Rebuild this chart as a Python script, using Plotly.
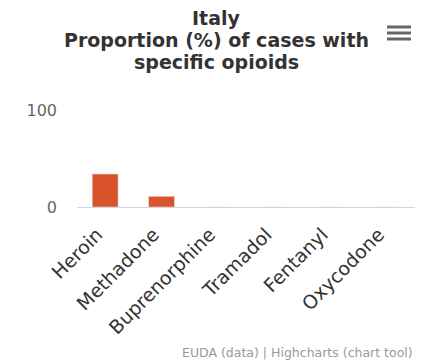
import plotly.graph_objects as go

opioids = ["Heroin", "Methadone", "Buprenorphine", "Tramadol", "Fentanyl", "Oxycodone"]
proportion = [34, 11, 0, 0, 0, 0]
title_lines = ["Italy", "Proportion (%) of cases with", "specific opioids"]

W, H = 428, 362
ML, MR, MT, MB = 77, 13, 110, 155
PH = H - MT - MB


def py(px):
    # pixel row from top -> paper y
    return (H - MB - px) / PH


def px_x(px):
    return (px - ML) / (W - ML - MR)


fig = go.Figure()
fig.add_trace(
    go.Bar(
        x=opioids,
        y=proportion,
        marker_color="#d9532b",
        width=0.46,
        hoverinfo="x+y",
    )
)

annotations = []
for i, line in enumerate(title_lines):
    annotations.append(
        dict(
            text="<b>%s</b>" % line,
            xref="paper",
            yref="paper",
            x=px_x(216),
            y=py(18 + 22 * i),
            xanchor="center",
            yanchor="middle",
            showarrow=False,
            font=dict(size=19, color="#333333"),
        )
    )
annotations.append(
    dict(
        text="EUDA (data) | Highcharts (chart tool)",
        xref="paper",
        yref="paper",
        x=px_x(415),
        y=py(352),
        xanchor="right",
        yanchor="middle",
        showarrow=False,
        font=dict(size=12.5, color="#999999"),
    )
)

fig.update_layout(
    width=W,
    height=H,
    paper_bgcolor="white",
    plot_bgcolor="white",
    font=dict(family="DejaVu Sans, Verdana, sans-serif", color="#333333"),
    margin=dict(l=ML, r=MR, t=MT, b=MB, autoexpand=False),
    showlegend=False,
    xaxis=dict(
        tickangle=-45,
        tickfont=dict(size=19, color="#333333"),
        showgrid=False,
        showline=True,
        linecolor="#ccd6eb",
        ticks="",
        ticklabelstandoff=8,
        ticklabelshift=-8,
        fixedrange=True,
    ),
    yaxis=dict(
        range=[0, 100],
        tickvals=[0, 100],
        tickfont=dict(size=16, color="#666666"),
        gridcolor="#e6e6e6",
        zeroline=False,
        ticks="",
        ticklabelstandoff=19,
        fixedrange=True,
    ),
    annotations=annotations,
)

# hamburger menu icon
for dy in (27, 33, 39):
    fig.add_shape(
        type="line",
        xref="paper",
        yref="paper",
        x0=px_x(387),
        x1=px_x(411),
        y0=py(dy),
        y1=py(dy),
        line=dict(color="#666666", width=3),
    )

fig.write_html(
    "out.html",
    config={"displayModeBar": False},
    post_script="document.body.style.margin='0px';",
)
